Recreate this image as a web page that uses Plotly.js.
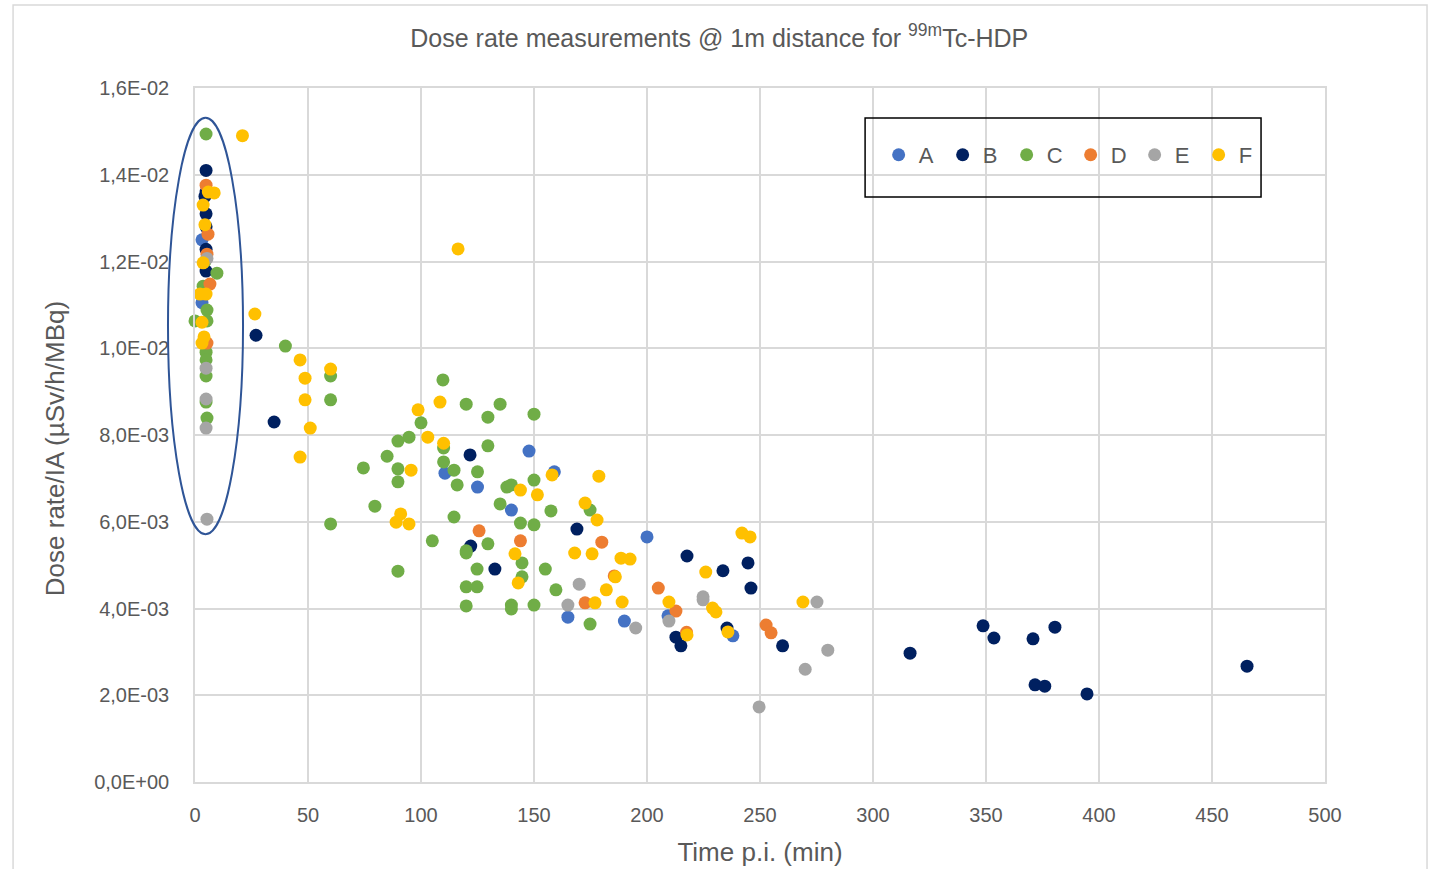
<!DOCTYPE html>
<html>
<head>
<meta charset="utf-8">
<script src="https://cdn.plot.ly/plotly-3.0.1.min.js"></script>
<style>html,body{margin:0;padding:0;background:#fff;}#chart{width:1430px;height:869px;}</style>
</head>
<body>
<div id="chart"></div>
<script>
// Time p.i. (min) and dose rate / IA (µSv/h/MBq) per series
const A_t = [3.1, 3.1, 147.8, 110.6, 125, 140, 159, 200, 165, 190, 209.3, 238];
const A_v = [12.5e-3, 11.05e-3, 7.63e-3, 7.12e-3, 6.8e-3, 6.27e-3, 7.15e-3, 5.65e-3, 3.8e-3, 3.71e-3, 3.83e-3, 3.37e-3];

const B_t = [4.9, 4.9, 4.4, 4.9, 4.9, 4.9, 4.9, 27, 35, 121.7, 122, 132.7, 169, 217.7, 233.6, 244.7, 246, 212.8, 215, 235.4, 260, 316.4, 348.7, 353.5, 370.8, 380.5, 371.7, 376, 394.7, 465.5];
const B_v = [14.1e-3, 13.6e-3, 13.5e-3, 13.1e-3, 12.8e-3, 12.28e-3, 11.78e-3, 10.3e-3, 8.3e-3, 7.54e-3, 5.44e-3, 4.91e-3, 5.83e-3, 5.21e-3, 4.87e-3, 5.05e-3, 4.47e-3, 3.34e-3, 3.14e-3, 3.55e-3, 3.14e-3, 2.97e-3, 3.6e-3, 3.32e-3, 3.3e-3, 3.57e-3, 2.24e-3, 2.21e-3, 2.03e-3, 2.67e-3];

const C_t = [4.9, 4.4, 9.7, 3.6, 4.4, 5.3, 0, 5.3, 4.9, 4.9, 4.9, 4.9, 5.3, 40, 60, 60, 60, 109.7, 120, 135, 129.6, 150, 100, 94.7, 89.8, 110, 129.6, 85, 74.5, 89.8, 110, 114.6, 125, 89.8, 116, 138, 140, 150, 79.6, 135, 114.6, 144, 150, 105, 120, 120, 129.6, 144.7, 124.8, 144.7, 89.8, 120, 124.8, 120, 140, 140, 150, 155, 157.5, 174.8, 159.7, 174.8];
const C_v = [14.94e-3, 12.0e-3, 11.73e-3, 11.43e-3, 11.41e-3, 10.88e-3, 10.63e-3, 10.63e-3, 9.91e-3, 9.73e-3, 9.36e-3, 8.76e-3, 8.39e-3, 10.05e-3, 9.36e-3, 8.81e-3, 5.95e-3, 9.27e-3, 8.71e-3, 8.71e-3, 8.41e-3, 8.48e-3, 8.28e-3, 7.95e-3, 7.86e-3, 7.7e-3, 7.75e-3, 7.51e-3, 7.24e-3, 7.22e-3, 7.38e-3, 7.19e-3, 7.15e-3, 6.92e-3, 6.85e-3, 6.8e-3, 6.85e-3, 6.96e-3, 6.36e-3, 6.41e-3, 6.11e-3, 5.97e-3, 5.93e-3, 5.56e-3, 5.33e-3, 5.28e-3, 5.49e-3, 5.05e-3, 4.91e-3, 4.73e-3, 4.86e-3, 4.5e-3, 4.5e-3, 4.06e-3, 4.08e-3, 3.99e-3, 4.08e-3, 4.91e-3, 6.25e-3, 6.27e-3, 4.43e-3, 3.64e-3];

const D_t = [4.9, 5.75, 5.3, 6.6, 5.3, 125.7, 144, 180, 205, 172.6, 212.8, 217.5, 252.7, 254.9, 185.5];
const D_v = [13.76e-3, 12.63e-3, 12.17e-3, 11.48e-3, 10.12e-3, 5.79e-3, 5.56e-3, 5.53e-3, 4.47e-3, 4.13e-3, 3.94e-3, 3.45e-3, 3.62e-3, 3.44e-3, 4.75e-3];

const E_t = [5.3, 4.9, 4.9, 4.9, 5.3, 170, 165, 195, 209.7, 224.8, 224.8, 275.2, 280, 270, 249.6];
const E_v = [12.07e-3, 9.54e-3, 8.83e-3, 8.16e-3, 6.06e-3, 4.56e-3, 4.08e-3, 3.55e-3, 3.71e-3, 4.27e-3, 4.2e-3, 4.15e-3, 3.04e-3, 2.6e-3, 1.73e-3];

const F_t = [21, 5.9, 8.5, 3.6, 4.4, 3.6, 2.2, 4.9, 3.1, 4.0, 3.1, 26.5, 46.5, 48.7, 60, 48.7, 51, 46.5, 116.4, 108.4, 98.7, 103, 110, 95.6, 91, 89, 94.7, 144, 151.5, 158, 178.7, 172.6, 177.9, 168, 175.7, 188.5, 192.5, 141.6, 143, 226, 186, 182, 177, 189, 209.7, 229, 230.5, 217.7, 235.8, 242, 245.6, 269];
const F_v = [14.9e-3, 13.6e-3, 13.58e-3, 13.3e-3, 12.85e-3, 11.97e-3, 11.25e-3, 11.25e-3, 10.6e-3, 10.26e-3, 10.12e-3, 10.79e-3, 9.73e-3, 9.31e-3, 9.52e-3, 8.81e-3, 8.16e-3, 7.49e-3, 12.29e-3, 8.76e-3, 8.58e-3, 7.95e-3, 7.81e-3, 7.19e-3, 6.18e-3, 5.99e-3, 5.95e-3, 6.73e-3, 6.62e-3, 7.08e-3, 7.05e-3, 6.43e-3, 6.04e-3, 5.28e-3, 5.26e-3, 5.16e-3, 5.14e-3, 5.26e-3, 4.59e-3, 4.84e-3, 4.73e-3, 4.43e-3, 4.13e-3, 4.15e-3, 4.15e-3, 4.01e-3, 3.92e-3, 3.39e-3, 3.46e-3, 5.74e-3, 5.65e-3, 4.15e-3];

const seriesNames = ['A', 'B', 'C', 'D', 'E', 'F'];
const seriesColors = ['#4472C4', '#002060', '#70AD47', '#ED7D31', '#A5A5A5', '#FFC000'];
const seriesT = [A_t, B_t, C_t, D_t, E_t, F_t];
const seriesV = [A_v, B_v, C_v, D_v, E_v, F_v];

const yTickVals = [0, 0.002, 0.004, 0.006, 0.008, 0.010, 0.012, 0.014, 0.016];
const yTickText = ['0,0E+00', '2,0E-03', '4,0E-03', '6,0E-03', '8,0E-03', '1,0E-02', '1,2E-02', '1,4E-02', '1,6E-02'];

const font = 'Liberation Sans, Arial, sans-serif';
const grey = '#595959';
const grid = '#d9d9d9';

const traces = seriesNames.map((n, i) => ({
  type: 'scatter', mode: 'markers', name: n,
  x: seriesT[i], y: seriesV[i],
  marker: {color: seriesColors[i], size: 13, line: {width: 0}},
  cliponaxis: false
}));

const layout = {
  width: 1430, height: 869,
  margin: {l: 195, r: 105, t: 88, b: 87},
  paper_bgcolor: '#fff', plot_bgcolor: '#fff',
  showlegend: true,
  title: {
    text: 'Dose rate measurements @ 1m distance for <sup>99m</sup>Tc-HDP',
    x: 0.503, xref: 'container', y: 0.956, yref: 'container', yanchor: 'middle',
    font: {family: font, size: 25, color: grey}
  },
  xaxis: {
    range: [0, 500], tickvals: [0, 50, 100, 150, 200, 250, 300, 350, 400, 450, 500],
    showgrid: true, gridcolor: grid, gridwidth: 1.5, zeroline: false,
    showline: true, linecolor: grid, linewidth: 1.5, mirror: true,
    ticks: '', ticklabelstandoff: 14,
    tickfont: {family: font, size: 20, color: grey},
    title: {text: 'Time p.i. (min)', font: {family: font, size: 26, color: grey}, standoff: 18}
  },
  yaxis: {
    range: [0, 0.016], tickvals: yTickVals, ticktext: yTickText,
    showgrid: true, gridcolor: grid, gridwidth: 1.5, zeroline: false,
    showline: true, linecolor: grid, linewidth: 1.5, mirror: true,
    ticks: '', ticklabelstandoff: 20,
    tickfont: {family: font, size: 20, color: grey}
  },
  annotations: [
    {text: 'Dose rate/IA (µSv/h/MBq)', xref: 'paper', yref: 'paper', x: -0.1239, y: 0.481,
     xanchor: 'center', yanchor: 'middle', textangle: -90, showarrow: false,
     font: {family: font, size: 26, color: grey}}
  ],
  legend: {
    orientation: 'h', x: 0.605, xanchor: 'left', y: 0.9035, yanchor: 'middle',
    bgcolor: 'rgba(0,0,0,0)', borderwidth: 0, entrywidth: 19,
    font: {family: font, size: 22, color: grey}
  },
  shapes: [
    {type: 'rect', xref: 'paper', yref: 'paper', x0: 0.593, x1: 0.9434, y0: 0.8429, y1: 0.9568,
     line: {color: '#000', width: 1.5}, fillcolor: 'rgba(0,0,0,0)'},
    {type: 'circle', xref: 'paper', yref: 'paper', x0: -0.0239, x1: 0.0425, y0: 0.357, y1: 0.957,
     line: {color: '#2F5597', width: 2}, fillcolor: 'rgba(0,0,0,0)'},
    {type: 'rect', xref: 'paper', yref: 'paper', x0: -0.161, x1: 1.0903, y0: -0.2, y1: 1.1196,
     line: {color: grid, width: 1.5}, fillcolor: 'rgba(0,0,0,0)', layer: 'below'}
  ]
};

Plotly.newPlot('chart', traces, layout, {displayModeBar: false, responsive: false});
</script>
</body>
</html>
